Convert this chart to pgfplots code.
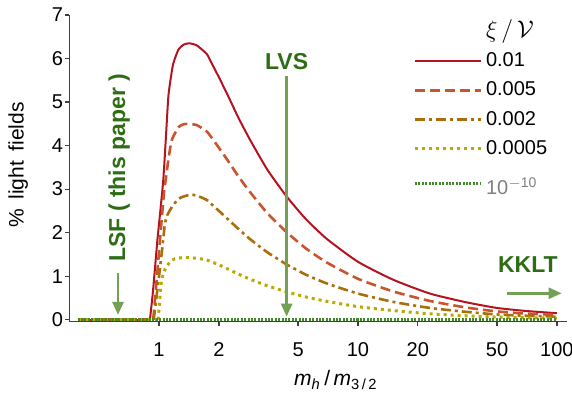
\documentclass[border=0pt]{standalone}
\usepackage{fontspec}
\setmainfont{Liberation Sans}
\usepackage{pgfplots}
\pgfplotsset{compat=1.18}
\usetikzlibrary{arrows.meta}
\definecolor{cred}{RGB}{180,20,30}
\definecolor{corange}{RGB}{200,85,45}
\definecolor{cbrown}{RGB}{170,110,10}
\definecolor{cyellow}{RGB}{185,170,0}
\definecolor{cgreen}{RGB}{70,135,45}
\definecolor{txtgreen}{RGB}{45,110,20}
\definecolor{arrgreen}{RGB}{115,160,85}
\begin{document}
\begin{tikzpicture}
\begin{axis}[
  scale only axis,
  width=248.7pt, height=153.35pt,
  xmode=log,
  xmin=0.354, xmax=112,
  ymin=-0.046, ymax=7,
  axis x line*=bottom, axis y line*=left,
  axis line style={black!75, line width=0.6pt},
  tick align=outside,
  major tick length=2pt,
  tick style={black!75, line width=0.6pt},
  xtick={1,2,5,10,20,50,100},
  xticklabels={1,2,5,10,20,50,100},
  minor xtick={},
  ytick={0,1,2,3,4,5,6,7},
  /pgf/number format/assume math mode=true,
  tick label style={font=\fontsize{10}{12}\selectfont},
  xticklabel style={yshift=-5pt},
  yticklabel style={xshift=2.4pt},
  clip=false,
  xlabel={\textit{m}\textsubscript{\textit{h}}\,/\,\textit{m}\textsubscript{3\,/\,2}},
  ylabel={\%\hspace{0.45em}light\hspace{0.45em}fields},
  xlabel style={at={(rel axis cs:0.536,0)}, anchor=center, yshift=-29.2pt, font=\fontsize{10.5}{12}\selectfont},
  ylabel style={at={(rel axis cs:0,0.511)}, anchor=center, yshift=25.6pt, font=\fontsize{10.5}{12}\selectfont},
  legend style={at={(rel axis cs:0.679,1.013)}, anchor=north west, draw=none, fill=none,
    font=\fontsize{10}{12}\selectfont, row sep=2.15pt,
    /tikz/every even column/.append style={column sep=2pt}},
  legend cell align=left,
  legend image code/.code={\draw[#1] (0pt,0pt) -- (32.8pt,0pt);},
]
\coordinate (O) at (rel axis cs:0,0);
\addlegendimage{empty legend}
\addlegendentry{\fontsize{11.5}{12}\selectfont$\xi\,/\,\mathcal{V}$\rule[-4.5pt]{0pt}{1pt}}

% zero parts before onset
\addplot[cred, line width=1pt, forget plot] coordinates {(0.39,0) (0.90,0)};
\addplot[corange, line width=1.3pt, dash pattern=on 5pt off 2.5pt, forget plot] coordinates {(0.39,0) (0.935,0)};
\addplot[cbrown, line width=1.3pt, dash pattern=on 5pt off 2pt on 1.5pt off 2pt, forget plot] coordinates {(0.39,0) (0.94,0)};
\addplot[cyellow, line width=1.5pt, dash pattern=on 1.5pt off 2pt, forget plot] coordinates {(0.39,0) (0.99,0)};

\addplot[cred, line width=1pt, smooth, tension=0.35] coordinates {
(0.90,0) (0.93,0.6) (0.955,1.2) (0.98,1.8) (1.01,2.4) (1.05,3.2) (1.08,4.1)
(1.114,5.13) (1.15,5.6) (1.18,5.89) (1.25,6.2) (1.33,6.32) (1.42,6.35) (1.55,6.3)
(1.74,6.1) (1.84,5.89) (2.0,5.57) (2.23,5.13) (2.5,4.65) (2.87,4.13) (3.5,3.45)
(4.38,2.83) (5.5,2.3) (7.0,1.85) (10,1.33) (15,0.92) (23,0.6) (35,0.4) (50,0.27)
(70,0.2) (100,0.15)};
\addlegendentry{0.01}

\addplot[corange, line width=1.3pt, dash pattern=on 5pt off 2.5pt, smooth, tension=0.35] coordinates {
(0.935,0) (0.96,0.6) (1.0,1.56) (1.03,2.27) (1.06,2.93) (1.09,3.35) (1.12,3.75)
(1.16,4.13) (1.25,4.42) (1.33,4.49) (1.40,4.50) (1.55,4.47) (1.74,4.32) (1.84,4.18)
(2.0,3.95) (2.23,3.64) (2.5,3.30) (2.87,2.93) (3.5,2.45) (4.38,2.01) (5.5,1.63)
(7,1.31) (10,0.94) (15,0.65) (23,0.43) (35,0.28) (50,0.19) (70,0.14) (100,0.11)};
\addlegendentry{0.005}

\addplot[cbrown, line width=1.3pt, dash pattern=on 5pt off 2pt on 1.5pt off 2pt, smooth, tension=0.35] coordinates {
(0.94,0) (0.97,0.5) (1.0,1.0) (1.03,1.5) (1.05,1.85) (1.07,2.2) (1.10,2.4)
(1.18,2.64) (1.28,2.8) (1.43,2.87) (1.55,2.85) (1.74,2.75) (1.84,2.65) (2.0,2.5)
(2.23,2.30) (2.5,2.09) (2.87,1.85) (3.5,1.55) (4.38,1.27) (5.5,1.03) (7,0.83)
(10,0.60) (15,0.41) (23,0.27) (35,0.18) (50,0.12) (70,0.09) (100,0.07)};
\addlegendentry{0.002}

\addplot[cyellow, line width=1.5pt, dash pattern=on 1.5pt off 2pt, smooth, tension=0.35] coordinates {
(0.99,0) (1.01,0.5) (1.03,0.91) (1.06,1.1) (1.09,1.22) (1.14,1.33) (1.20,1.40)
(1.35,1.43) (1.55,1.41) (1.74,1.37) (2.0,1.26) (2.23,1.16) (2.5,1.05) (2.87,0.93)
(3.5,0.78) (4.38,0.64) (5.5,0.52) (7,0.42) (10,0.30) (15,0.21) (23,0.135) (35,0.09)
(50,0.06) (70,0.045) (100,0.035)};
\addlegendentry{0.0005}

\addplot[cgreen, line width=1.3pt, dash pattern=on 1pt off 0.7pt] coordinates {
(0.39,0) (1,0) (10,0) (100,0)};
\addlegendentry{\rule{0pt}{12.5pt}\textcolor{black!50}{10\textsuperscript{$-$10}}}

\draw[arrgreen, line width=1.3pt, -{Triangle[length=6.5pt,width=5.5pt]}] (axis cs:0.622,1.07) -- (axis cs:0.622,0.11);
\draw[arrgreen, line width=1.3pt, -{Triangle[length=6.5pt,width=5.5pt]}] (axis cs:4.38,5.59) -- (axis cs:4.38,0.07);
\draw[arrgreen, line width=1.3pt, -{Triangle[length=6.5pt,width=5.5pt]}] (axis cs:55.9,0.607) -- (axis cs:105.6,0.607);
\node[rotate=90, text=txtgreen, font=\fontsize{11.5}{13}\selectfont\bfseries] at (axis cs:0.63,3.49) {LSF ( this paper )};
\node[text=txtgreen, font=\fontsize{11.5}{13}\selectfont\bfseries] at (axis cs:4.38,5.93) {LVS};
\node[text=txtgreen, font=\fontsize{11.5}{13}\selectfont\bfseries] at (axis cs:71.5,1.26) {KKLT};
\end{axis}
\pgfresetboundingbox
\path[use as bounding box] (O) ++(-34.65pt,-36.65pt) rectangle ++(286pt,197.5pt);
\end{tikzpicture}
\end{document}
